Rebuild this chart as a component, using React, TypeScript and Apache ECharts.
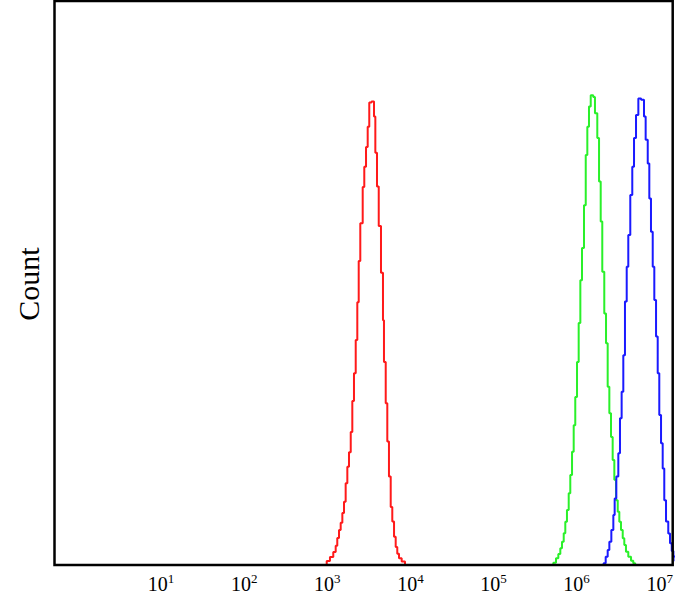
import React, { useEffect, useRef } from "react";
import * as echarts from "echarts";

// x values are log10(fluorescence) bin left edges, y values are counts (0-100 scale)
const xDecades = [1, 2, 3, 4, 5, 6, 7];

const redHist: [number, number][] = [
  [2.95, 0], [2.993, 0.7], [3.032, 1.4], [3.072, 2.3], [3.101, 3.4], [3.12, 4.8],
  [3.141, 6.2], [3.161, 7.5], [3.181, 9.2], [3.201, 11.2], [3.221, 14.5], [3.241, 17.4],
  [3.261, 20.0], [3.282, 23.6], [3.301, 29.1], [3.321, 34.0], [3.342, 39.9], [3.361, 46.6],
  [3.378, 53.9], [3.397, 60.6], [3.426, 67.0], [3.445, 70.6], [3.466, 74.1], [3.486, 77.7],
  [3.505, 82.0], [3.532, 82.2], [3.562, 79.5], [3.578, 73.1], [3.598, 67.1], [3.619, 60.1],
  [3.646, 51.8], [3.67, 43.4], [3.682, 36.0], [3.703, 28.7], [3.722, 21.9], [3.742, 15.7],
  [3.763, 10.3], [3.782, 7.7], [3.803, 5.0], [3.823, 3.2], [3.842, 2.0], [3.863, 1.2],
  [3.895, 0.6], [3.935, 0],
];

const greenHist: [number, number][] = [
  [5.7, 0], [5.72, 0.4], [5.752, 1.2], [5.78, 1.95], [5.804, 2.96], [5.824, 4.13],
  [5.845, 5.62], [5.864, 7.68], [5.884, 9.75], [5.905, 12.7], [5.924, 15.96], [5.945, 20.1],
  [5.965, 24.8], [5.984, 29.8], [6.005, 36.0], [6.025, 42.9], [6.045, 50.5], [6.065, 56.2],
  [6.089, 63.8], [6.11, 72.7], [6.129, 77.7], [6.149, 81.3], [6.17, 83.3], [6.2, 83.0],
  [6.221, 80.1], [6.249, 75.7], [6.27, 68.0], [6.29, 60.9], [6.309, 52.0], [6.333, 44.6],
  [6.354, 39.3], [6.374, 31.6], [6.394, 26.9], [6.414, 22.7], [6.434, 18.6], [6.454, 15.1],
  [6.474, 11.5], [6.495, 9.45], [6.514, 7.68], [6.534, 6.2], [6.555, 4.73], [6.574, 3.55],
  [6.594, 2.36], [6.622, 1.47], [6.655, 0.76], [6.682, 0.3], [6.705, 0],
];

const blueHist: [number, number][] = [
  [6.3, 0], [6.325, 0.3], [6.35, 1.47], [6.374, 2.66], [6.394, 4.13], [6.418, 6.2],
  [6.442, 8.87], [6.458, 11.8], [6.478, 15.7], [6.502, 19.8], [6.522, 26.0], [6.542, 30.7],
  [6.562, 37.2], [6.582, 46.7], [6.603, 52.9], [6.622, 58.5], [6.646, 65.6], [6.67, 70.6],
  [6.691, 75.7], [6.715, 79.8], [6.743, 82.7], [6.776, 82.5], [6.811, 79.5], [6.831, 75.4],
  [6.856, 71.2], [6.875, 65.0], [6.895, 59.1], [6.916, 52.9], [6.935, 47.0], [6.956, 40.5],
  [6.976, 34.0], [6.995, 26.6], [7.016, 21.6], [7.036, 17.1], [7.055, 11.5], [7.076, 7.7],
  [7.103, 5.6], [7.124, 3.85], [7.145, 2.5], [7.165, 1.5], [7.19, 0.7], [7.22, 0],
];

const X_MIN = -0.2828;
const X_MAX = 7.1564;
const Y_MAX = 100;

export default function App() {
  const ref = useRef<HTMLDivElement>(null);
  useEffect(() => {
    if (!ref.current) return;
    const chart = echarts.init(ref.current, null, { renderer: "svg" });
    const GL = 54.5, GT = 1, GR = 24.3, GB = 44;
    const W = 697, H = 609;
    chart.setOption({
      animation: false,
      backgroundColor: "#ffffff",
      grid: { left: GL, top: GT, right: GR, bottom: GB, show: false },
      xAxis: {
        type: "value",
        min: X_MIN,
        max: X_MAX,
        axisLine: { show: false },
        axisTick: { show: false },
        splitLine: { show: false },
        axisLabel: {
          customValues: xDecades,
          margin: 7,
          formatter: (v: number) => `{b|10}{s|${Math.round(v)}}`,
          rich: {
            b: { fontFamily: "Liberation Serif", fontSize: 20, color: "#000", lineHeight: 24 },
            s: { fontFamily: "Liberation Serif", fontSize: 13, color: "#000", lineHeight: 24, verticalAlign: "top", padding: [0, 0, 10, 0] },
          },
        },
      },
      yAxis: {
        type: "value",
        min: 0,
        max: Y_MAX,
        axisLine: { show: false },
        axisTick: { show: false },
        axisLabel: { show: false },
        splitLine: { show: false },
      },
      graphic: [
        {
          type: "rect",
          z: 100,
          shape: { x: GL, y: GT, width: W - GL - GR, height: H - GT - GB },
          style: { fill: "none", stroke: "#000", lineWidth: 2.5 },
        },
        {
          type: "text",
          x: 28,
          y: 284,
          rotation: Math.PI / 2,
          style: {
            text: "Count",
            fontFamily: "Liberation Serif",
            fontSize: 30,
            fill: "#000",
            align: "center",
            verticalAlign: "middle",
          },
        },
      ],
      series: [
        { name: "red", type: "line", step: "end", symbol: "none", clip: true, z: 2, lineStyle: { color: "#ff1a1a", width: 2 }, data: redHist },
        { name: "green", type: "line", step: "end", symbol: "none", clip: true, z: 2, lineStyle: { color: "#2af02a", width: 2 }, data: greenHist },
        { name: "blue", type: "line", step: "end", symbol: "none", clip: true, z: 2, lineStyle: { color: "#1a1aff", width: 2 }, data: blueHist },
      ],
    });
    return () => chart.dispose();
  }, []);
  return (
    <div
      ref={ref}
      style={{ position: "fixed", left: 0, top: 0, width: 697, height: 609 }}
    />
  );
}
